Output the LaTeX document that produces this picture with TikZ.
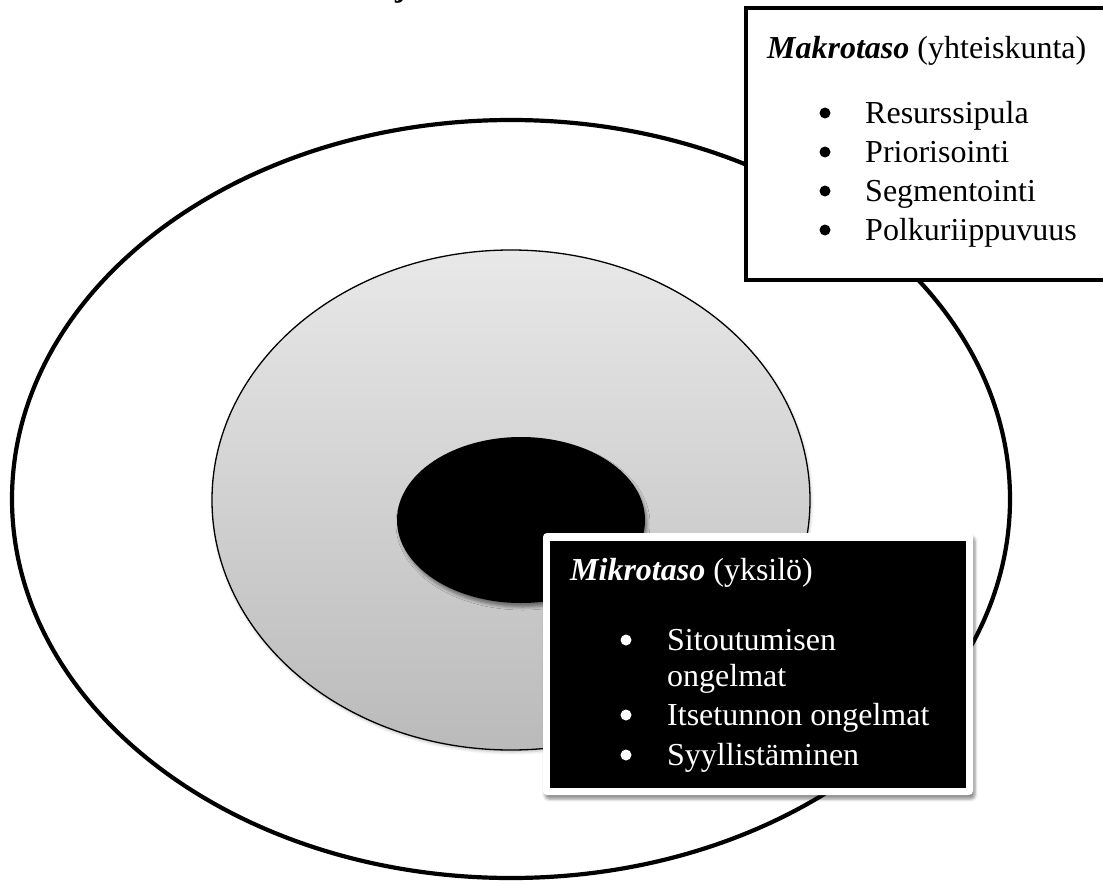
\documentclass[tikz,border=0pt]{standalone}
\usepackage{fontspec}
\setmainfont{Liberation Serif}
\usetikzlibrary{shadows.blur}
\begin{document}
\begin{tikzpicture}[x=1bp,y=-1bp,
  txt/.style={font=\fontsize{32bp}{38bp}\selectfont, inner sep=0pt, anchor=base west},
  bul/.style={circle, fill=black, inner sep=0pt, minimum size=11bp},
  wtxt/.style={txt, text=white},
  wbul/.style={bul, fill=white},
  softshadow/.style={blur shadow={shadow xshift=2bp, shadow yshift=-4bp, shadow blur radius=3bp, shadow opacity=45}},
]
\useasboundingbox (0,0) rectangle (1103,884);

% heading fragment at the very top edge
\node[font=\bfseries\fontsize{32bp}{38bp}\selectfont, inner sep=0pt, anchor=base west] (frag) at (395,-3) {j};

% outer level
\draw[line width=4.2bp] (511,499) ellipse [x radius=499, y radius=379];

% middle level
\draw[line width=1.3bp, top color=black!9, bottom color=black!27,
      blur shadow={shadow xshift=1bp, shadow yshift=-2bp, shadow blur radius=3bp, shadow opacity=25}]
  (511,500) ellipse [x radius=299, y radius=250];

% inner level
\fill[black, softshadow] (521,520) ellipse [x radius=124, y radius=83];

% macro level box
\draw[line width=4.2bp, fill=white] (746,8) rectangle (1120,280);
\node[txt] (makro) at (767,58) {\textbf{\textit{Makrotaso}} (yhteiskunta)};
\node[bul] (mb1) at (825,113) {};
\node[txt] (m1) at (865,123) {Resurssipula};
\node[bul] (mb2) at (825,152) {};
\node[txt] (m2) at (865,162) {Priorisointi};
\node[bul] (mb3) at (825,191) {};
\node[txt] (m3) at (865,201) {Segmentointi};
\node[bul] (mb4) at (825,230) {};
\node[txt] (m4) at (865,240) {Polkuriippuvuus};

% micro level box
\fill[white, rounded corners=4bp, softshadow] (543,533) rectangle (973,795);
\fill[black] (550,541) rectangle (966,788);
\node[wtxt] (mikro) at (570,580) {\textbf{\textit{Mikrotaso}} (yksilö)};
\node[wbul] (kb1) at (626,640) {};
\node[wtxt] (k1) at (667,650) {Sitoutumisen};
\node[wtxt] (k1b) at (667,686) {ongelmat};
\node[wbul] (kb2) at (626,715) {};
\node[wtxt] (k2) at (667,725) {Itsetunnon ongelmat};
\node[wbul] (kb3) at (626,755) {};
\node[wtxt] (k3) at (667,765) {Syyllistäminen};
\end{tikzpicture}
\end{document}
